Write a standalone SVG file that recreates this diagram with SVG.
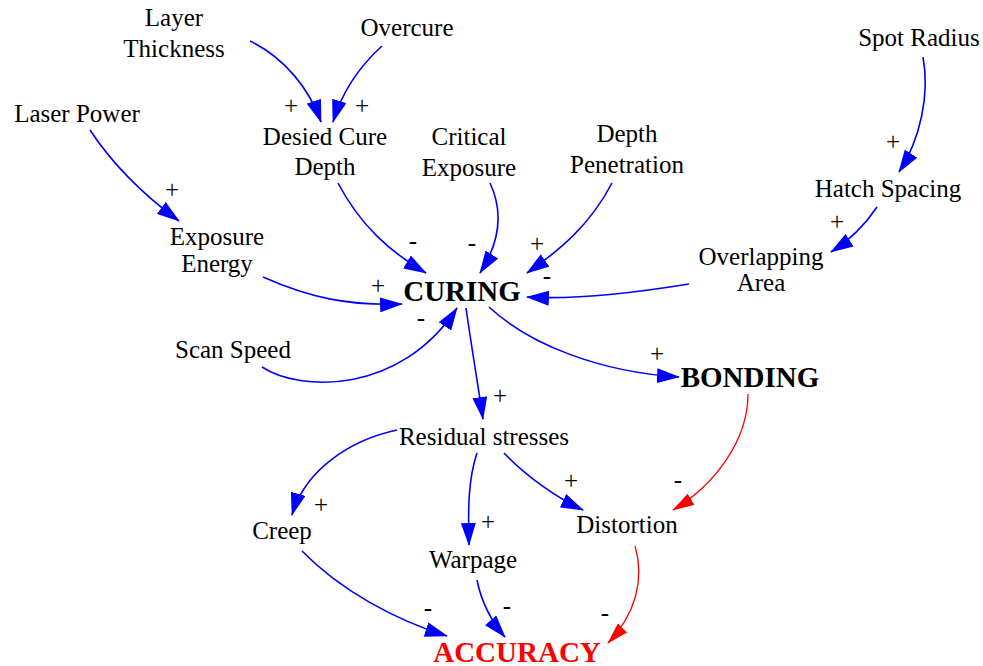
<svg xmlns="http://www.w3.org/2000/svg" width="983" height="666" viewBox="0 0 983 666">
  <style>
    .lbl { font-family: "Liberation Serif", "Times New Roman", serif; font-size: 25px; fill: #000; text-anchor: middle; }
    .key { font-family: "Liberation Serif", "Times New Roman", serif; font-size: 29px; font-weight: bold; fill: #000; text-anchor: middle; }
    .acc { fill: #ff0000; }
    .sign { font-family: "Liberation Serif", "Times New Roman", serif; font-size: 25px; fill: #000; text-anchor: middle; }
    .pos { stroke: #0000ff; stroke-width: 1.6; fill: none; marker-end: url(#headBlue); }
    .neg { stroke: #ff0000; stroke-width: 1.3; fill: none; marker-end: url(#headRed); }
  </style>
  <defs>
    <marker id="headBlue" viewBox="0 0 23 15" refX="22" refY="7.5" markerWidth="23" markerHeight="15" markerUnits="userSpaceOnUse" orient="auto">
      <path d="M0,0 L23,7.5 L0,15 z" fill="#0000ff"/>
    </marker>
    <marker id="headRed" viewBox="0 0 22 13" refX="21" refY="6.5" markerWidth="22" markerHeight="13" markerUnits="userSpaceOnUse" orient="auto">
      <path d="M0,0 L22,6.5 L0,13 z" fill="#ff0000"/>
    </marker>
  </defs>

  <rect width="983" height="666" fill="#ffffff"/>

  <g id="connectors">
    <path class="pos" d="M250,41 C285,58 310,90 321,122"/>
    <path class="pos" d="M382,46 C360,66 342,92 333,122"/>
    <path class="pos" d="M90,130 C115,168 145,196 179,221"/>
    <path class="pos" d="M338,183 C360,225 390,252 426,273"/>
    <path class="pos" d="M490,183 C505,215 498,245 480,273"/>
    <path class="pos" d="M612,183 C590,225 560,250 527,273"/>
    <path class="pos" d="M689,284 C640,292 580,300 527,297"/>
    <path class="pos" d="M263,277 C310,298 350,306 402,304"/>
    <path class="pos" d="M262,367 C300,392 400,395 457,308"/>
    <path class="pos" d="M489,307 C530,345 600,372 679,377"/>
    <path class="pos" d="M466,308 C472,350 478,385 483,419"/>
    <path class="pos" d="M397,430 C350,440 305,470 292,515"/>
    <path class="pos" d="M477,453 C468,480 468,510 469,545"/>
    <path class="pos" d="M504,453 C525,475 555,497 583,510"/>
    <path class="neg" d="M748,394 C748,440 715,485 673,510"/>
    <path class="pos" d="M302,551 C340,590 395,620 447,636"/>
    <path class="pos" d="M477,580 C482,605 492,622 505,637"/>
    <path class="neg" d="M635,546 C645,580 635,615 608,643"/>
    <path class="pos" d="M923,57 C930,95 920,140 899,172"/>
    <path class="pos" d="M877,207 C865,225 850,240 831,252"/>
  </g>

  <g id="signs">
    <text class="sign" x="291" y="114">+</text>
    <text class="sign" x="362" y="114">+</text>
    <text class="sign" x="172" y="198">+</text>
    <text class="sign" x="413" y="249">-</text>
    <text class="sign" x="472" y="251">-</text>
    <text class="sign" x="537" y="252">+</text>
    <text class="sign" x="547" y="284">-</text>
    <text class="sign" x="378" y="294">+</text>
    <text class="sign" x="421" y="326">-</text>
    <text class="sign" x="657" y="362">+</text>
    <text class="sign" x="500" y="404">+</text>
    <text class="sign" x="321" y="513">+</text>
    <text class="sign" x="488" y="530">+</text>
    <text class="sign" x="571" y="489">+</text>
    <text class="sign" x="678" y="488">-</text>
    <text class="sign" x="428" y="616">-</text>
    <text class="sign" x="507" y="614">-</text>
    <text class="sign" x="605" y="621">-</text>
    <text class="sign" x="893" y="150">+</text>
    <text class="sign" x="837" y="230">+</text>
  </g>

  <g id="layer-thickness"><text class="lbl" x="174" y="26">Layer</text><text class="lbl" x="174" y="57">Thickness</text></g>
  <g id="overcure"><text class="lbl" x="407" y="36">Overcure</text></g>
  <g id="laser-power"><text class="lbl" x="77" y="122">Laser Power</text></g>
  <g id="desied-cure-depth"><text class="lbl" x="325" y="145">Desied Cure</text><text class="lbl" x="325" y="175">Depth</text></g>
  <g id="critical-exposure"><text class="lbl" x="469" y="145">Critical</text><text class="lbl" x="469" y="176">Exposure</text></g>
  <g id="depth-penetration"><text class="lbl" x="627" y="142">Depth</text><text class="lbl" x="627" y="173">Penetration</text></g>
  <g id="spot-radius"><text class="lbl" x="919" y="46">Spot Radius</text></g>
  <g id="hatch-spacing"><text class="lbl" x="888" y="197">Hatch Spacing</text></g>
  <g id="overlapping-area"><text class="lbl" x="761" y="265">Overlapping</text><text class="lbl" x="761" y="291">Area</text></g>
  <g id="exposure-energy"><text class="lbl" x="217" y="245">Exposure</text><text class="lbl" x="217" y="272">Energy</text></g>
  <g id="curing"><text class="key" x="462" y="301">CURING</text></g>
  <g id="scan-speed"><text class="lbl" x="233" y="358">Scan Speed</text></g>
  <g id="bonding"><text class="key" x="750" y="387">BONDING</text></g>
  <g id="residual-stresses"><text class="lbl" x="484" y="445">Residual stresses</text></g>
  <g id="creep"><text class="lbl" x="282" y="539">Creep</text></g>
  <g id="warpage"><text class="lbl" x="473" y="568">Warpage</text></g>
  <g id="distortion"><text class="lbl" x="627" y="533">Distortion</text></g>
  <g id="accuracy"><text class="key acc" x="517" y="662">ACCURACY</text></g>
</svg>
